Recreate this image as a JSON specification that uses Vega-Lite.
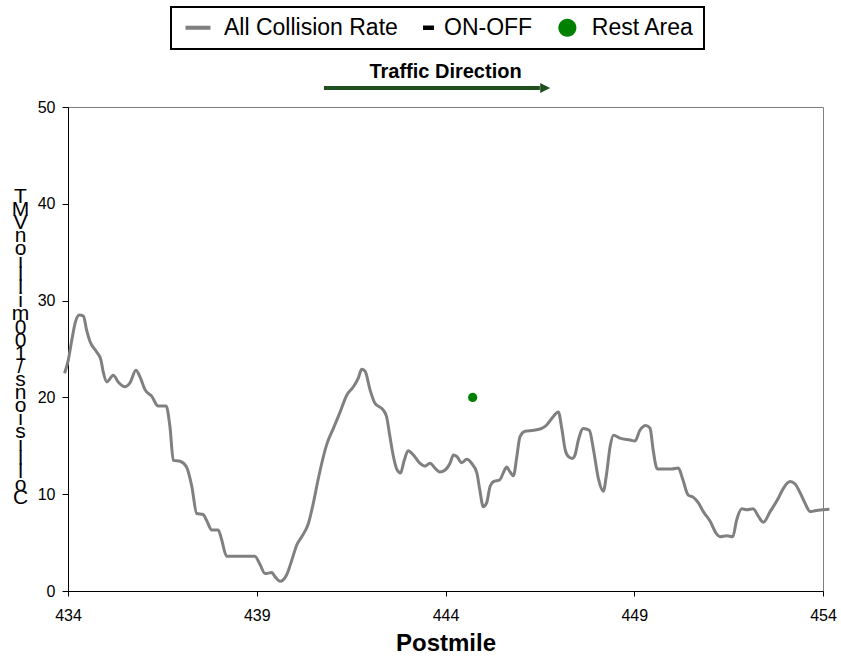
{
  "$schema": "https://vega.github.io/schema/vega-lite/v6.json",
  "width": 755,
  "height": 484,
  "autosize": "none",
  "padding": {"left": 68, "top": 107, "right": 18, "bottom": 69},
  "background": "white",
  "datasets": {
    "collision": [
      {"pm": 433.91, "rate": 22.5}, {"pm": 434.01, "rate": 23.9}, {"pm": 434.10, "rate": 25.9}, {"pm": 434.19, "rate": 27.7},
      {"pm": 434.30, "rate": 28.5}, {"pm": 434.41, "rate": 28.4}, {"pm": 434.49, "rate": 27.0}, {"pm": 434.58, "rate": 25.8},
      {"pm": 434.76, "rate": 24.7}, {"pm": 434.87, "rate": 23.9}, {"pm": 434.94, "rate": 22.5}, {"pm": 435.03, "rate": 21.6},
      {"pm": 435.20, "rate": 22.3}, {"pm": 435.33, "rate": 21.6}, {"pm": 435.51, "rate": 21.1}, {"pm": 435.64, "rate": 21.5},
      {"pm": 435.80, "rate": 22.8}, {"pm": 435.91, "rate": 22.1}, {"pm": 436.04, "rate": 20.8}, {"pm": 436.22, "rate": 20.1},
      {"pm": 436.39, "rate": 19.1}, {"pm": 436.60, "rate": 19.1}, {"pm": 436.70, "rate": 17.0}, {"pm": 436.79, "rate": 13.5},
      {"pm": 436.97, "rate": 13.4}, {"pm": 437.14, "rate": 12.8}, {"pm": 437.28, "rate": 10.8}, {"pm": 437.41, "rate": 8.0},
      {"pm": 437.58, "rate": 7.9}, {"pm": 437.67, "rate": 7.3}, {"pm": 437.81, "rate": 6.3}, {"pm": 437.98, "rate": 6.3},
      {"pm": 438.07, "rate": 5.3}, {"pm": 438.20, "rate": 3.6}, {"pm": 438.38, "rate": 3.6}, {"pm": 438.95, "rate": 3.6},
      {"pm": 439.09, "rate": 2.7}, {"pm": 439.22, "rate": 1.8}, {"pm": 439.40, "rate": 1.9}, {"pm": 439.48, "rate": 1.5},
      {"pm": 439.62, "rate": 1.0}, {"pm": 439.79, "rate": 1.65}, {"pm": 439.93, "rate": 3.2}, {"pm": 440.06, "rate": 4.75},
      {"pm": 440.19, "rate": 5.6}, {"pm": 440.37, "rate": 7.0}, {"pm": 440.50, "rate": 9.1}, {"pm": 440.63, "rate": 11.6},
      {"pm": 440.85, "rate": 15.1}, {"pm": 441.03, "rate": 16.8}, {"pm": 441.21, "rate": 18.5}, {"pm": 441.38, "rate": 20.2},
      {"pm": 441.56, "rate": 21.1}, {"pm": 441.69, "rate": 22.0}, {"pm": 441.78, "rate": 22.9}, {"pm": 441.87, "rate": 22.7},
      {"pm": 442.00, "rate": 20.8}, {"pm": 442.13, "rate": 19.4}, {"pm": 442.35, "rate": 18.7}, {"pm": 442.44, "rate": 18.0},
      {"pm": 442.53, "rate": 15.9}, {"pm": 442.62, "rate": 13.9}, {"pm": 442.72, "rate": 12.5}, {"pm": 442.81, "rate": 12.2},
      {"pm": 442.90, "rate": 13.4}, {"pm": 443.01, "rate": 14.5}, {"pm": 443.15, "rate": 14.05}, {"pm": 443.32, "rate": 13.2},
      {"pm": 443.46, "rate": 12.9}, {"pm": 443.59, "rate": 13.2}, {"pm": 443.72, "rate": 12.7}, {"pm": 443.85, "rate": 12.3},
      {"pm": 443.99, "rate": 12.5}, {"pm": 444.12, "rate": 13.2}, {"pm": 444.21, "rate": 14.05}, {"pm": 444.30, "rate": 13.9},
      {"pm": 444.43, "rate": 13.25}, {"pm": 444.56, "rate": 13.6}, {"pm": 444.69, "rate": 13.2}, {"pm": 444.83, "rate": 12.2},
      {"pm": 444.91, "rate": 10.4}, {"pm": 445.00, "rate": 8.7}, {"pm": 445.09, "rate": 9.1}, {"pm": 445.18, "rate": 10.8},
      {"pm": 445.27, "rate": 11.3}, {"pm": 445.44, "rate": 11.5}, {"pm": 445.53, "rate": 12.2}, {"pm": 445.62, "rate": 12.8},
      {"pm": 445.71, "rate": 12.3}, {"pm": 445.80, "rate": 11.9}, {"pm": 445.89, "rate": 13.9}, {"pm": 445.97, "rate": 15.9},
      {"pm": 446.11, "rate": 16.5}, {"pm": 446.33, "rate": 16.6}, {"pm": 446.55, "rate": 16.8}, {"pm": 446.68, "rate": 17.15},
      {"pm": 446.81, "rate": 17.8}, {"pm": 446.99, "rate": 18.5}, {"pm": 447.08, "rate": 16.8}, {"pm": 447.17, "rate": 14.6},
      {"pm": 447.25, "rate": 13.9}, {"pm": 447.36, "rate": 13.7}, {"pm": 447.43, "rate": 14.05}, {"pm": 447.52, "rate": 15.6},
      {"pm": 447.65, "rate": 16.8}, {"pm": 447.81, "rate": 16.6}, {"pm": 447.92, "rate": 14.6}, {"pm": 448.05, "rate": 11.6},
      {"pm": 448.18, "rate": 10.3}, {"pm": 448.27, "rate": 12.2}, {"pm": 448.36, "rate": 14.9}, {"pm": 448.45, "rate": 16.1},
      {"pm": 448.62, "rate": 15.8}, {"pm": 448.89, "rate": 15.6}, {"pm": 449.02, "rate": 15.5}, {"pm": 449.15, "rate": 16.6},
      {"pm": 449.31, "rate": 17.1}, {"pm": 449.42, "rate": 16.8}, {"pm": 449.50, "rate": 14.6}, {"pm": 449.61, "rate": 12.6},
      {"pm": 449.77, "rate": 12.6}, {"pm": 449.99, "rate": 12.6}, {"pm": 450.17, "rate": 12.7}, {"pm": 450.28, "rate": 11.6},
      {"pm": 450.43, "rate": 9.9}, {"pm": 450.56, "rate": 9.7}, {"pm": 450.70, "rate": 9.1}, {"pm": 450.83, "rate": 8.2},
      {"pm": 451.01, "rate": 7.2}, {"pm": 451.18, "rate": 5.9}, {"pm": 451.27, "rate": 5.6}, {"pm": 451.45, "rate": 5.7},
      {"pm": 451.61, "rate": 5.6}, {"pm": 451.71, "rate": 7.3}, {"pm": 451.85, "rate": 8.5}, {"pm": 451.98, "rate": 8.4},
      {"pm": 452.15, "rate": 8.5}, {"pm": 452.29, "rate": 7.7}, {"pm": 452.42, "rate": 7.1}, {"pm": 452.60, "rate": 8.2},
      {"pm": 452.82, "rate": 9.6}, {"pm": 452.95, "rate": 10.6}, {"pm": 453.13, "rate": 11.3}, {"pm": 453.26, "rate": 11.05},
      {"pm": 453.40, "rate": 10.1}, {"pm": 453.52, "rate": 9.1}, {"pm": 453.66, "rate": 8.2}, {"pm": 453.79, "rate": 8.3},
      {"pm": 454.01, "rate": 8.4}, {"pm": 454.17, "rate": 8.45}
    ],
    "rest": [
      {"pm": 444.72, "rate": 20.0, "series": "Rest Area"}
    ]
  },
  "layer": [
    {
      "data": {"name": "collision"},
      "mark": {"type": "line", "color": "#808080", "strokeWidth": 3, "interpolate": "monotone"},
      "encoding": {
        "x": {"field": "pm", "type": "quantitative",
              "scale": {"domain": [434, 454], "nice": false, "zero": false},
              "axis": {"title": "Postmile", "values": [434, 439, 444, 449, 454], "format": "d",
                       "labelFontSize": 16, "labelPadding": 11, "tickSize": 5, "labelFlush": false,
                       "titleFontSize": 24, "titleFontWeight": "bold", "titleBaseline": "top", "titleY": 40}},
        "y": {"field": "rate", "type": "quantitative",
              "scale": {"domain": [0, 50], "nice": false, "zero": true},
              "axis": {"title": ["T","M","V"," ","n","o","i","l","l","i","m"," ","0","0","1","/","s","n","o","i","s","i","l","l","o","C"],
                       "values": [0, 10, 20, 30, 40, 50], "labelFontSize": 16, "labelPadding": 7, "tickSize": 6,
                       "titleAngle": 0, "titleAlign": "center", "titleBaseline": "top", "titleX": -48, "titleY": 78,
                       "titleFontSize": 21, "titleFontWeight": "normal", "titleLineHeight": 13.1}}
      }
    },
    {
      "data": {"name": "rest"},
      "mark": {"type": "point", "filled": true, "opacity": 0},
      "encoding": {
        "x": {"field": "pm", "type": "quantitative"},
        "y": {"field": "rate", "type": "quantitative"},
        "color": {"field": "series", "type": "nominal",
                  "scale": {"domain": ["All Collision Rate", "ON-OFF", "Rest Area"], "range": ["#808080", "#000000", "#008000"]},
                  "legend": {"orient": "none", "legendX": 103, "legendY": -100, "direction": "horizontal", "columns": 3,
                             "title": null, "strokeColor": "black", "padding": 9, "symbolSize": 196, "labelOffset": 21,
                             "columnPadding": 2, "labelFontSize": 23, "labelFont": "Liberation Sans", "labelColor": "black",
                             "symbolStrokeWidth": 0, "symbolOpacity": 1, "labelLimit": 0,
                             "labelExpr": "datum.label == 'Rest Area' ? '\u200b\u00a0\u00a0Rest Area' : datum.label"}},
        "shape": {"field": "series", "type": "nominal",
                  "scale": {"domain": ["All Collision Rate", "ON-OFF", "Rest Area"],
                            "range": ["M-0.86,-0.29H2.71V0.29H-0.86Z", "M1.64,-0.32H3.22V0.32H1.64Z", "M4.27,0A1.29,1.29,0,1,1,1.69,0A1.29,1.29,0,1,1,4.27,0Z"]},
                  "legend": {"orient": "none", "legendX": 103, "legendY": -100, "direction": "horizontal", "columns": 3,
                             "title": null, "strokeColor": "black", "padding": 9, "symbolSize": 196, "labelOffset": 21,
                             "columnPadding": 2, "labelFontSize": 23, "labelFont": "Liberation Sans", "labelColor": "black",
                             "symbolStrokeWidth": 0, "symbolOpacity": 1, "labelLimit": 0,
                             "labelExpr": "datum.label == 'Rest Area' ? '\u200b\u00a0\u00a0Rest Area' : datum.label"}}
      }
    },
    {
      "data": {"name": "rest"},
      "mark": {"type": "circle", "color": "#008000", "size": 85, "opacity": 1},
      "encoding": {
        "x": {"field": "pm", "type": "quantitative"},
        "y": {"field": "rate", "type": "quantitative"}
      }
    },
    {
      "data": {"values": [{}]},
      "mark": {"type": "rule", "color": "#1f4f1f", "strokeWidth": 4},
      "encoding": {
        "x": {"datum": 440.78, "type": "quantitative"},
        "x2": {"datum": 446.5},
        "y": {"datum": 51.96, "type": "quantitative"}
      }
    },
    {
      "data": {"values": [{}]},
      "mark": {"type": "point", "filled": true, "color": "#1f4f1f", "opacity": 1, "size": 100, "shape": "M-1,-1L1,0L-1,1Z"},
      "encoding": {
        "x": {"datum": 446.64, "type": "quantitative"},
        "y": {"datum": 51.96, "type": "quantitative"}
      }
    },
    {
      "data": {"values": [{}]},
      "mark": {"type": "text", "text": "Traffic Direction", "fontSize": 20, "fontWeight": "bold", "font": "Liberation Sans", "align": "center", "baseline": "alphabetic", "color": "black"},
      "encoding": {
        "x": {"datum": 444.0, "type": "quantitative"},
        "y": {"datum": 53.0, "type": "quantitative"}
      }
    }
  ],
  "config": {
    "font": "Liberation Sans",
    "view": {"stroke": "#808080", "strokeWidth": 1},
    "axis": {"grid": false, "domainColor": "black", "tickColor": "black", "labelColor": "black", "titleColor": "black",
             "labelFont": "Liberation Sans", "titleFont": "Liberation Sans", "domainWidth": 1, "tickWidth": 1},
    "legend": {"strokeWidth": 2}
  }
}
